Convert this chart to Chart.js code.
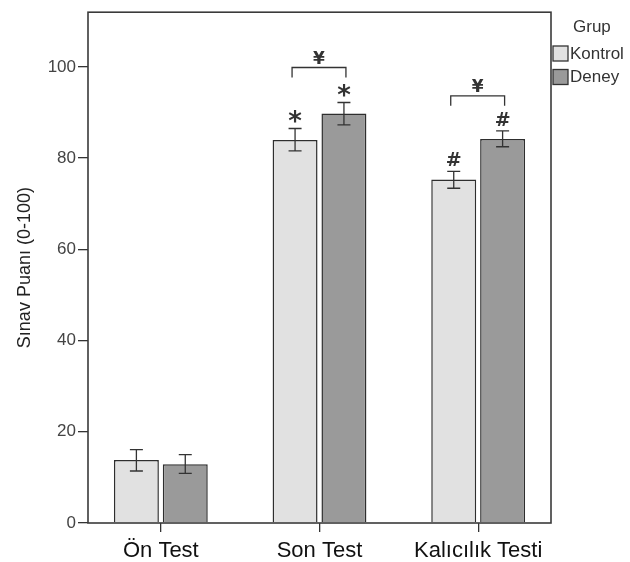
<!DOCTYPE html>
<html>
<head>
<meta charset="utf-8">
<script src="https://cdn.jsdelivr.net/npm/chart.js@4"></script>
<style>
  html, body { margin: 0; padding: 0; background: #fff; }
  #wrap { width: 630px; height: 562px; position: relative; }
</style>
</head>
<body>
<div id="wrap"><canvas id="grafik"></canvas></div>
<script>
// categories and series
const kategoriler = ['Ön Test', 'Son Test', 'Kalıcılık Testi'];
const kontrol = [13.8, 84.0, 75.3];
const deney = [12.9, 89.8, 84.2];
// error bar ends
const kontrolAlt = [11.4, 81.6, 73.4];
const kontrolUst = [16.1, 86.5, 77.1];
const deneyAlt = [10.9, 87.3, 82.5];
const deneyUst = [15.0, 92.2, 86.0];
// significance marks above each bar, and bracket between the two groups
const kontrolIsaret = ['', '*', '#'];
const deneyIsaret = ['', '*', '#'];
const parantez = ['', '¥', '¥'];
const yTikler = [0, 20, 40, 60, 80, 100];

const FONT = '"Liberation Sans", Arial, sans-serif';
const KOYU = '#333333';

const hataCubuklari = {
    id: 'hataCubuklari',
    afterDatasetsDraw(chart) {
        const ctx = chart.ctx;
        const y = chart.scales.y;
        const alt = [kontrolAlt, deneyAlt];
        const ust = [kontrolUst, deneyUst];
        const isaret = [kontrolIsaret, deneyIsaret];
        ctx.save();
        ctx.strokeStyle = KOYU;
        ctx.fillStyle = KOYU;
        ctx.lineWidth = 1.3;
        chart.data.datasets.forEach((ds, d) => {
            chart.getDatasetMeta(d).data.forEach((bar, i) => {
                const x = bar.x;
                const y1 = y.getPixelForValue(alt[d][i]);
                const y2 = y.getPixelForValue(ust[d][i]);
                ctx.beginPath();
                ctx.moveTo(x, y1); ctx.lineTo(x, y2);
                ctx.moveTo(x - 6.5, y1); ctx.lineTo(x + 6.5, y1);
                ctx.moveTo(x - 6.5, y2); ctx.lineTo(x + 6.5, y2);
                ctx.stroke();
                const t = isaret[d][i];
                if (t) {
                    ctx.font = t === '*' ? 'bold 26px "DejaVu Sans"' : 'bold 19px "DejaVu Serif"';
                    const m = ctx.measureText(t);
                    const merkez = y2 - 12;
                    ctx.textAlign = 'center';
                    ctx.textBaseline = 'alphabetic';
                    ctx.fillText(t, x, merkez + (m.actualBoundingBoxAscent - m.actualBoundingBoxDescent) / 2);
                }
            });
        });
        // brackets
        const m0 = chart.getDatasetMeta(0).data;
        const m1 = chart.getDatasetMeta(1).data;
        parantez.forEach((t, i) => {
            if (!t) return;
            const ustY = Math.min(y.getPixelForValue(kontrolUst[i]), y.getPixelForValue(deneyUst[i]));
            const uc = ustY - 25;
            const tepe = ustY - 35;
            const xa = m0[i].x - 3;
            const xb = m1[i].x + 2;
            ctx.beginPath();
            ctx.moveTo(xa, uc); ctx.lineTo(xa, tepe); ctx.lineTo(xb, tepe); ctx.lineTo(xb, uc);
            ctx.stroke();
            ctx.font = 'bold 17px "DejaVu Sans"';
            const m = ctx.measureText(t);
            ctx.textAlign = 'center';
            ctx.fillText(t, (xa + xb) / 2, tepe - 10 + (m.actualBoundingBoxAscent - m.actualBoundingBoxDescent) / 2);
        });
        ctx.restore();
    }
};

const cerceve = {
    id: 'cerceve',
    afterDraw(chart) {
        const a = chart.chartArea;
        const ctx = chart.ctx;
        ctx.save();
        ctx.strokeStyle = '#3a3a3a';
        ctx.lineWidth = 1.6;
        ctx.strokeRect(a.left, a.top, a.right - a.left, a.bottom - a.top);
        // legend
        ctx.fillStyle = KOYU;
        ctx.font = '17px ' + FONT;
        ctx.textAlign = 'left';
        ctx.textBaseline = 'middle';
        ctx.fillText('Grup', 573, 27);
        chart.data.datasets.forEach((ds, d) => {
            const by = 46 + d * 23.5;
            ctx.fillStyle = ds.backgroundColor;
            ctx.fillRect(553, by, 15, 15);
            ctx.strokeStyle = KOYU;
            ctx.lineWidth = 1.3;
            ctx.strokeRect(553, by, 15, 15);
            ctx.fillStyle = KOYU;
            ctx.fillText(ds.label, 570, by + 8);
        });
        ctx.restore();
    }
};

const ctx = document.getElementById('grafik').getContext('2d');
new Chart(ctx, {
    type: 'bar',
    data: {
        datasets: [
            {
                label: 'Kontrol',
                data: kontrol.map((v, i) => ({ x: i, y: v })),
                backgroundColor: '#e1e1e1',
                borderColor: '#2e2e2e',
                borderWidth: 1.5,
            },
            {
                label: 'Deney',
                data: deney.map((v, i) => ({ x: i, y: v })),
                backgroundColor: '#9a9a9a',
                borderColor: '#2e2e2e',
                borderWidth: 1.5,
            },
        ],
    },
    options: {
        responsive: true,
        maintainAspectRatio: false,
        animation: false,
        categoryPercentage: 0.616,
        barPercentage: 0.92,
        layout: { padding: { top: 6, right: 79, left: 0, bottom: 0 } },
        plugins: { legend: { display: false }, tooltip: { enabled: false } },
        scales: {
            x: {
                type: 'linear',
                offset: false,
                min: -0.459,
                max: 2.459,
                afterBuildTicks: (s) => { s.ticks = kategoriler.map((k, i) => ({ value: i })); },
                afterFit: (s) => { s.height = 39; },
                grid: { display: true, offset: false, drawOnChartArea: false, tickLength: 9, color: KOYU, lineWidth: 1.3 },
                border: { display: false },
                ticks: {
                    callback: (v) => kategoriler[v],
                    color: '#111',
                    font: { family: FONT, size: 22 },
                    padding: 6,
                    maxRotation: 0,
                },
            },
            y: {
                min: 0,
                max: 112,
                afterBuildTicks: (s) => { s.ticks = yTikler.map((v) => ({ value: v })); },
                afterFit: (s) => { s.width = 88; },
                grid: { display: true, drawOnChartArea: false, tickLength: 10, color: KOYU, lineWidth: 1.3 },
                border: { display: false },
                ticks: { color: '#444', font: { family: FONT, size: 17 }, padding: 2 },
                title: {
                    display: true,
                    text: 'Sınav Puanı (0-100)',
                    color: '#222',
                    font: { family: FONT, size: 18 },
                    padding: { top: 14, bottom: 0 },
                },
            },
        },
    },
    plugins: [hataCubuklari, cerceve],
});
</script>
</body>
</html>
